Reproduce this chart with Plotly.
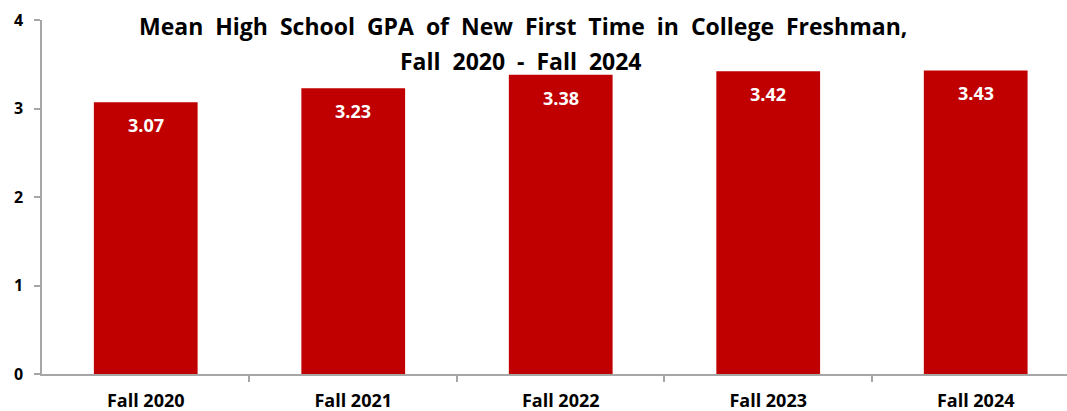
import plotly.graph_objects as go

categories = ["Fall 2020", "Fall 2021", "Fall 2022", "Fall 2023", "Fall 2024"]
gpa = [3.07, 3.23, 3.38, 3.42, 3.43]
labels = ["3.07", "3.23", "3.38", "3.42", "3.43"]
y_ticks = [0, 1, 2, 3, 4]
title_line1 = "Mean High School GPA of New First Time in College Freshman,"
title_line2 = "Fall 2020 - Fall 2024"

RED = "#C00000"
GRAY = "#A6A6A6"
FONT = "Open Sans"


def spaced(s):
    return s.replace(" ", " &nbsp;")


fig = go.Figure()
fig.add_trace(go.Bar(
    x=list(range(len(categories))), y=gpa, width=0.5,
    marker=dict(color=RED, line=dict(width=0)),
    hoverinfo="skip",
))

for i, (v, t) in enumerate(zip(gpa, labels)):
    fig.add_annotation(x=i, y=v, text=f"<b>{t}</b>", showarrow=False,
                       yshift=-23, font=dict(family=FONT, size=18, color="white"))

fig.add_annotation(xref="paper", yref="paper", x=0.469, y=1.0, yshift=-6,
                   yanchor="middle", text=f"<b>{spaced(title_line1)}</b>", showarrow=False,
                   font=dict(family=FONT, size=23, color="black"))
fig.add_annotation(xref="paper", yref="paper", x=0.467, y=1.0, yshift=-41,
                   yanchor="middle", text=f"<b>{spaced(title_line2)}</b>", showarrow=False,
                   font=dict(family=FONT, size=23, color="black"))

fig.update_layout(
    width=1067, height=411,
    margin=dict(l=42, r=0, t=20, b=37),
    paper_bgcolor="white", plot_bgcolor="white",
    showlegend=False,
    font=dict(family=FONT, color="black"),
)
fig.update_xaxes(
    range=[-0.5, 4.44],
    tickmode="array", tickvals=list(range(len(categories))),
    ticktext=[f"<b>{c}</b>" for c in categories],
    tickfont=dict(family=FONT, size=18, color="black"),
    showline=True, linecolor=GRAY, linewidth=1.5,
    ticks="", showgrid=False, zeroline=False, automargin=False,
    ticklabelstandoff=10,
)
fig.update_xaxes(minor=dict(tickmode="array", tickvals=[0.5, 1.5, 2.5, 3.5, 4.5],
                            ticks="outside", ticklen=6, tickcolor=GRAY, tickwidth=1.5))
fig.update_yaxes(
    range=[0, 4],
    tickmode="array", tickvals=y_ticks,
    ticktext=[f"<b>{v}</b>" for v in y_ticks],
    tickfont=dict(family=FONT, size=16, color="black"),
    showline=True, linecolor=GRAY, linewidth=1.5,
    ticks="outside", ticklen=6, tickcolor=GRAY, tickwidth=1.5,
    showgrid=False, zeroline=False, ticklabelstandoff=8, automargin=False,
)

fig.write_html("out.html", config={"displayModeBar": False},
               post_script="document.body.style.margin='0px';document.body.style.overflow='hidden';")
